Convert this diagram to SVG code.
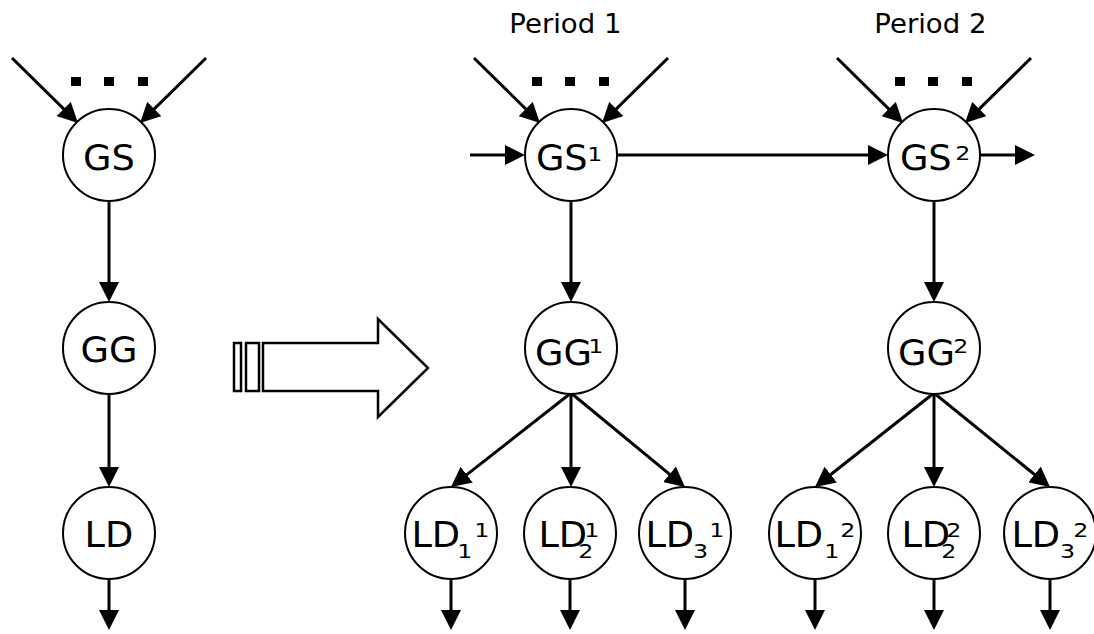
<svg xmlns="http://www.w3.org/2000/svg" width="1094" height="634" viewBox="0 0 1094 634">
  <defs>
    <marker id="ah" viewBox="0 0 20 20" refX="12" refY="10" markerWidth="20" markerHeight="20" markerUnits="userSpaceOnUse" orient="auto">
      <path d="M0,0 L20,10 L0,20 Z" fill="#000"/>
    </marker>
    <style>
      .node { fill: #fff; stroke: #000; stroke-width: 2; }
      .edge { stroke: #000; stroke-width: 3; fill: none; marker-end: url(#ah); }
      .lbl { font-family: "DejaVu Sans", Verdana, sans-serif; font-size: 35px; fill: #000; }
      .idx { font-family: "DejaVu Sans", Verdana, sans-serif; font-size: 19px; fill: #000; }
      .title { font-family: "DejaVu Sans", Verdana, sans-serif; font-size: 26px; fill: #000; }
      .dot { fill: #000; }
      .big { fill: #fff; stroke: #000; stroke-width: 2.5; }
    </style>
  </defs>
  <rect width="1094" height="634" fill="#fff"/>

  <!-- period headings (slightly widened to Verdana proportions) -->
  <text class="title" transform="translate(509.3 33) scale(1.06 1)">Period 1</text>
  <text class="title" transform="translate(874.3 33) scale(1.06 1)">Period 2</text>

  <!-- ellipsis marks above the GS nodes -->
  <g id="ellipses">
    <rect class="dot" x="71" y="77" width="10" height="9"/>
    <rect class="dot" x="104" y="77" width="10" height="9"/>
    <rect class="dot" x="138" y="77" width="10" height="9"/>
    <rect class="dot" x="532" y="77" width="10" height="9"/>
    <rect class="dot" x="565" y="77" width="10" height="9"/>
    <rect class="dot" x="599" y="77" width="10" height="9"/>
    <rect class="dot" x="895" y="77" width="10" height="9"/>
    <rect class="dot" x="928" y="77" width="10" height="9"/>
    <rect class="dot" x="962" y="77" width="10" height="9"/>
  </g>

  <!-- block arrow between the single-period and multi-period views -->
  <g id="expand-arrow">
    <rect class="big" x="234" y="343" width="7" height="48"/>
    <rect class="big" x="246" y="343" width="13" height="48"/>
    <polygon class="big" points="263,343 378,343 378,319 428,368 378,417 378,391 263,391"/>
  </g>

  <!-- connectors -->
  <g id="connectors">
    <!-- left column -->
    <line class="edge" x1="12" y1="58" x2="72.3" y2="117.4"/>
    <line class="edge" x1="206" y1="58" x2="145.7" y2="117.4"/>
    <line class="edge" x1="109" y1="201" x2="109" y2="294"/>
    <line class="edge" x1="109" y1="394" x2="109" y2="479"/>
    <line class="edge" x1="109" y1="579" x2="109" y2="622"/>

    <!-- period 1 -->
    <line class="edge" x1="474" y1="58" x2="534.3" y2="117.4"/>
    <line class="edge" x1="668" y1="58" x2="607.7" y2="117.4"/>
    <line class="edge" x1="470" y1="155" x2="517" y2="155"/>
    <line class="edge" x1="617" y1="155" x2="880" y2="155"/>
    <line class="edge" x1="571" y1="201" x2="571" y2="294"/>
    <line class="edge" x1="571" y1="393" x2="457.3" y2="482.1"/>
    <line class="edge" x1="571" y1="393" x2="571" y2="479"/>
    <line class="edge" x1="571" y1="393" x2="678.8" y2="481.9"/>
    <line class="edge" x1="451" y1="579" x2="451" y2="622"/>
    <line class="edge" x1="570" y1="579" x2="570" y2="622"/>
    <line class="edge" x1="685" y1="579" x2="685" y2="622"/>

    <!-- period 2 -->
    <line class="edge" x1="837" y1="58" x2="897.3" y2="117.4"/>
    <line class="edge" x1="1031" y1="58" x2="970.7" y2="117.4"/>
    <line class="edge" x1="980" y1="155" x2="1027" y2="155"/>
    <line class="edge" x1="934" y1="201" x2="934" y2="294"/>
    <line class="edge" x1="934" y1="393" x2="821.3" y2="482.0"/>
    <line class="edge" x1="934" y1="393" x2="934" y2="479"/>
    <line class="edge" x1="934" y1="393" x2="1043.8" y2="482.0"/>
    <line class="edge" x1="815" y1="579" x2="815" y2="622"/>
    <line class="edge" x1="934" y1="579" x2="934" y2="622"/>
    <line class="edge" x1="1050" y1="579" x2="1050" y2="622"/>
  </g>

  <!-- single-period nodes -->
  <g id="GS">
    <circle class="node" cx="109" cy="155" r="46"/>
    <text class="lbl" text-anchor="middle" transform="translate(109 170) scale(1.05 1)">GS</text>
  </g>
  <g id="GG">
    <circle class="node" cx="109" cy="348" r="46"/>
    <text class="lbl" text-anchor="middle" transform="translate(109 362) scale(1.05 1)">GG</text>
  </g>
  <g id="LD">
    <circle class="node" cx="109" cy="533" r="46"/>
    <text class="lbl" text-anchor="middle" transform="translate(109 547) scale(1.05 1)">LD</text>
  </g>

  <!-- period 1 nodes -->
  <g id="GS1">
    <circle class="node" cx="571" cy="155" r="46"/>
    <text class="lbl" transform="translate(535.9 170) scale(1.05 1)">GS</text>
    <text class="idx" transform="translate(587.2 161) scale(1.25 1)">1</text>
  </g>
  <g id="GG1">
    <circle class="node" cx="571" cy="348" r="46"/>
    <text class="lbl" transform="translate(535 365) scale(1.05 1)">GG</text>
    <text class="idx" transform="translate(588.2 353) scale(1.25 1)">1</text>
  </g>
  <g id="LD1_1">
    <circle class="node" cx="451" cy="533" r="46"/>
    <text class="lbl" transform="translate(411.4 547) scale(1.05 1)">LD</text>
    <text class="idx" transform="translate(457.2 558) scale(1.25 1)">1</text>
    <text class="idx" transform="translate(474.2 537) scale(1.25 1)">1</text>
  </g>
  <g id="LD2_1">
    <circle class="node" cx="570" cy="533" r="46"/>
    <text class="lbl" transform="translate(538.4 547) scale(1.05 1)">LD</text>
    <text class="idx" transform="translate(578.3 558) scale(1.25 1)">2</text>
    <text class="idx" transform="translate(584.2 537) scale(1.25 1)">1</text>
  </g>
  <g id="LD3_1">
    <circle class="node" cx="685" cy="533" r="46"/>
    <text class="lbl" transform="translate(645.4 547) scale(1.05 1)">LD</text>
    <text class="idx" transform="translate(693 558) scale(1.25 1)">3</text>
    <text class="idx" transform="translate(709.2 537) scale(1.25 1)">1</text>
  </g>

  <!-- period 2 nodes -->
  <g id="GS2">
    <circle class="node" cx="934" cy="155" r="46"/>
    <text class="lbl" transform="translate(899.9 170) scale(1.05 1)">GS</text>
    <text class="idx" transform="translate(955.3 160) scale(1.25 1)">2</text>
  </g>
  <g id="GG2">
    <circle class="node" cx="934" cy="348" r="46"/>
    <text class="lbl" transform="translate(898 365) scale(1.05 1)">GG</text>
    <text class="idx" transform="translate(953.3 353) scale(1.25 1)">2</text>
  </g>
  <g id="LD1_2">
    <circle class="node" cx="815" cy="533" r="46"/>
    <text class="lbl" transform="translate(774.4 547) scale(1.05 1)">LD</text>
    <text class="idx" transform="translate(824.2 558) scale(1.25 1)">1</text>
    <text class="idx" transform="translate(840.3 537) scale(1.25 1)">2</text>
  </g>
  <g id="LD2_2">
    <circle class="node" cx="934" cy="533" r="46"/>
    <text class="lbl" transform="translate(901.4 547) scale(1.05 1)">LD</text>
    <text class="idx" transform="translate(941.3 558) scale(1.25 1)">2</text>
    <text class="idx" transform="translate(946.3 537) scale(1.25 1)">2</text>
  </g>
  <g id="LD3_2">
    <circle class="node" cx="1050" cy="533" r="46"/>
    <text class="lbl" transform="translate(1011.4 547) scale(1.05 1)">LD</text>
    <text class="idx" transform="translate(1060 558) scale(1.25 1)">3</text>
    <text class="idx" transform="translate(1073.3 537) scale(1.25 1)">2</text>
  </g>
</svg>
